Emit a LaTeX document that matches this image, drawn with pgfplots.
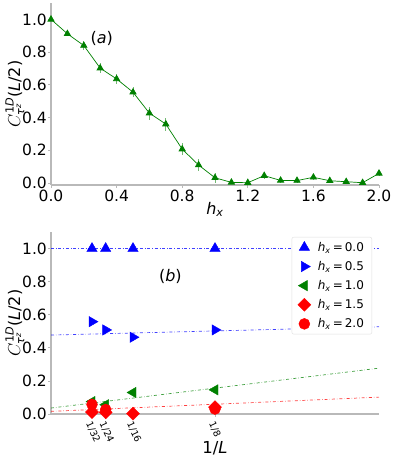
\documentclass[border=0pt]{standalone}
\usepackage{pgfplots}
\pgfplotsset{compat=1.18}
\usepackage{amsmath}
\usepackage{fontspec}
\setmainfont{DejaVu Sans}
\definecolor{mgreen}{RGB}{0,128,0}
\definecolor{mblue}{RGB}{0,0,255}
\definecolor{mred}{RGB}{255,0,0}
\newcommand{\hx}{\textit{h}\textsubscript{\textit{x}}}
\newcommand{\ylab}{$C^{\text{1\textit{D}}}_{\text{\textit{τ}}^{\text{\textit{z}}}}$(\textit{L}/2)}
\newcommand{\legent}[1]{\hspace{5pt}\hx\,=\,#1}
\begin{document}
\begin{tikzpicture}
\path[use as bounding box] (0pt,0pt) rectangle (394pt,463pt);
\pgfplotsset{
  myax/.style={
    scale only axis, width=328pt, height=182pt,
    axis x line*=bottom, axis y line*=left,
    axis line style={draw=gray!55, line width=1.4pt},
    tick style={draw=gray!55, line width=0.8pt},
    tick align=outside, major tick length=3pt,
    /pgf/number format/assume math mode=true,
    /pgf/number format/fixed, /pgf/number format/fixed zerofill,
    /pgf/number format/precision=1,
    ticklabel style={font=\fontsize{15.5}{18}\selectfont},
    yticklabel style={inner sep=1pt},
    label style={font=\fontsize{16}{19}\selectfont},
    ylabel style={at={(axis description cs:-0.11,0.5)}, anchor=center},
    ytick={0,0.2,0.4,0.6,0.8,1.0},
  }
}
% ---------------- top panel (a)
\begin{axis}[myax, at={(51pt,278pt)}, anchor=south west,
  xmin=0, xmax=2, ymin=-0.012, ymax=1.1,
  xtick={0,0.4,0.8,1.2,1.6,2.0},
  xticklabel style={inner sep=2pt},
  xlabel={\hx}, xlabel style={at={(axis description cs:0.5,-0.135)}, anchor=center},
  ylabel={\ylab},
  clip=false]
\addplot[mgreen, line width=0.7pt, mark=triangle*, mark size=3.6pt,
  error bars/.cd, y dir=both, y explicit,
  error bar style={draw=mgreen!55, line width=0.9pt}, error mark=none]
  table[x=x, y=y, y error=e]{
x y e
0.0 1.000 0.010
0.1 0.912 0.015
0.2 0.840 0.025
0.3 0.702 0.030
0.4 0.636 0.030
0.5 0.555 0.030
0.6 0.427 0.040
0.7 0.360 0.040
0.8 0.207 0.035
0.9 0.110 0.035
1.0 0.032 0.030
1.1 0.004 0.010
1.2 0.002 0.020
1.3 0.045 0.020
1.4 0.016 0.015
1.5 0.015 0.015
1.6 0.035 0.015
1.7 0.014 0.015
1.8 0.008 0.015
1.9 0.002 0.010
2.0 0.059 0.015
};
\node[font=\fontsize{16}{19}\selectfont] at (axis cs:0.31,0.885) {(\textit{a})};
\end{axis}
% ---------------- bottom panel (b)
\begin{axis}[myax, at={(51pt,49pt)}, anchor=south west,
  xmin=0, xmax=0.25, ymin=0, ymax=1.1,
  xtick={0.03125,0.0416667,0.0625,0.125},
  xticklabels={1/32,1/24,1/16,1/8},
  xticklabel style={rotate=-65, anchor=west, font=\fontsize{9.5}{11}\selectfont, inner sep=0pt, xshift=3.5pt, yshift=-5.5pt},
  xlabel={1/\textit{L}}, xlabel style={at={(axis description cs:0.5,-0.187)}, anchor=center, font=\fontsize{16.5}{20}\selectfont},
  ylabel={\ylab},
  legend style={at={(0.979,0.973)}, anchor=north east, draw=gray!25, rounded corners=2pt,
    font=\fontsize{12}{14}\selectfont, row sep=4.5pt, inner xsep=6pt, inner ysep=3pt},
  legend cell align=left,
  ]
% fits
\addplot[forget plot, mblue, dash dot, line width=0.7pt, opacity=0.75] coordinates {(0,1.0) (0.25,1.0)};
\addplot[forget plot, mblue, dash dot, line width=0.7pt, opacity=0.75] coordinates {(0,0.477) (0.25,0.527)};
\addplot[forget plot, mgreen, dash dot, line width=0.7pt, opacity=0.75] coordinates {(0,0.036) (0.25,0.277)};
\addplot[forget plot, mred, dash dot, line width=0.7pt, opacity=0.75] coordinates {(0,0.016) (0.25,0.102)};
% data
\addplot[only marks, mblue, mark=triangle*, mark size=6pt,
  error bars/.cd, y dir=both, y explicit, error bar style={draw=mblue!50, line width=0.9pt}, error mark=none]
  table[x=x,y=y,y error=e]{
x y e
0.03125 1.000 0.005
0.0416667 1.000 0.005
0.0625 1.000 0.005
0.125 1.000 0.005
};
\addlegendentry{\legent{0.0}}
\addplot[only marks, mblue, mark=triangle*, mark size=6pt, mark options={rotate=-90},
  error bars/.cd, y dir=both, y explicit, error bar style={draw=mblue!50, line width=0.9pt}, error mark=none]
  table[x=x,y=y,y error=e]{
x y e
0.03125 0.558 0.015
0.0416667 0.508 0.020
0.0625 0.464 0.025
0.125 0.508 0.020
};
\addlegendentry{\legent{0.5}}
\addplot[only marks, mgreen, mark=triangle*, mark size=6pt, mark options={rotate=90},
  error bars/.cd, y dir=both, y explicit, error bar style={draw=mgreen!50, line width=0.9pt}, error mark=none]
  table[x=x,y=y,y error=e]{
x y e
0.03125 0.075 0.015
0.0416667 0.056 0.020
0.0625 0.130 0.020
0.125 0.146 0.015
};
\addlegendentry{\legent{1.0}}
\addplot[only marks, mred, mark=square*, mark size=4.6pt, mark options={rotate=45}]
  coordinates {(0.03125,0.012) (0.0416667,0.010) (0.0625,0.002) (0.125,0.042)};
\addlegendentry{\legent{1.5}}
\addplot[only marks, mred, mark=*, mark size=5.5pt]
  coordinates {(0.03125,0.058) (0.0416667,0.027) (0.0625,-0.02) (0.125,0.03)};
\addlegendentry{\legent{2.0}}
\node[font=\fontsize{16}{19}\selectfont] at (axis cs:0.091,0.83) {(\textit{b})};
\end{axis}
\end{tikzpicture}
\end{document}
